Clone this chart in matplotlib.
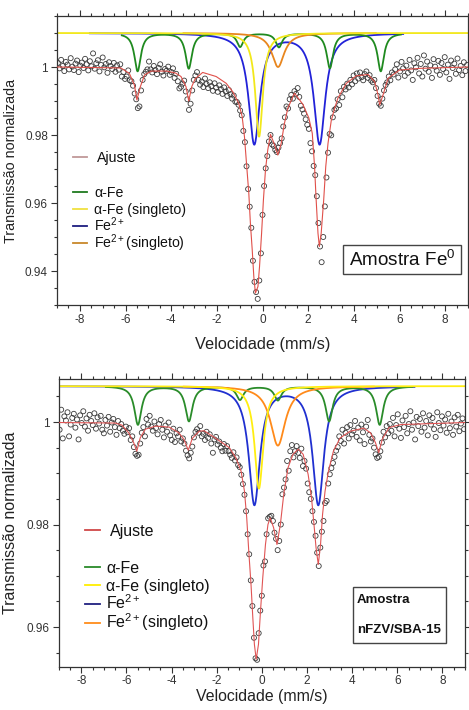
import numpy as np
import matplotlib
matplotlib.use("Agg")
import matplotlib.pyplot as plt
from matplotlib.ticker import MultipleLocator, FixedLocator, FixedFormatter
from matplotlib.lines import Line2D
from matplotlib.patches import Rectangle

plt.rcParams['font.family'] = ['Liberation Sans', 'DejaVu Sans']
plt.rcParams['mathtext.fontset'] = 'custom'
plt.rcParams['mathtext.rm'] = 'Liberation Sans'
plt.rcParams['mathtext.it'] = 'Liberation Sans:italic'
plt.rcParams['mathtext.bf'] = 'Liberation Sans:bold'
plt.rcParams['axes.unicode_minus'] = False

# ---------------- data ----------------
VEL_FIRST, VEL_LAST = -8.96, 8.96   # channel velocities (mm/s)

top_transmission = [
    1.0012, 0.9996, 1.0021, 1.0003, 0.9988, 1.0015, 1.0007, 0.9993, 1.0026, 1.0001,
    0.9991, 1.0010, 1.0019, 0.9985, 1.0004, 1.0013, 0.9997, 1.0024, 1.0008, 0.9990,
    1.0017, 1.0002, 1.0040, 0.9995, 1.0011, 1.0020, 0.9987, 1.0006, 1.0028, 0.9999,
    1.0009, 0.9983, 1.0014, 1.0003, 0.9994, 1.0012, 0.9986, 1.0005, 0.9992, 1.0008,
    0.9972, 0.9985, 0.9965,
    0.9972, 0.9990, 0.9961, 0.9958, 0.9945, 0.9922, 0.9905, 0.9879, 0.9884, 0.9931,
    0.9962, 0.9979, 0.9986, 0.9993,
    1.0016, 0.9993, 0.9984, 1.0003, 0.9991, 0.9979, 0.9997, 1.0008, 0.9986, 0.9975,
    0.9994, 0.9989, 1.0001, 0.9977, 0.9985, 0.9996, 0.9968, 0.9980,
    0.9958, 0.9937, 0.9942, 0.9951, 0.9960, 0.9928, 0.9905, 0.9874, 0.9892, 0.9931,
    0.9962, 0.9975,
    0.9985, 0.9962, 0.9948, 0.9957, 0.9941, 0.9966, 0.9950, 0.9938, 0.9955, 0.9944,
    0.9930, 0.9952, 0.9939, 0.9927, 0.9946, 0.9935, 0.9921, 0.9940, 0.9928, 0.9915,
    0.9932, 0.9920, 0.9907, 0.9916, 0.9898,
    0.9897, 0.9889, 0.9872, 0.9858, 0.9812, 0.9779, 0.9708, 0.9641, 0.9589, 0.9527,
    0.9430, 0.9368, 0.9338, 0.9318, 0.9372, 0.9452, 0.9565, 0.9650, 0.9702, 0.9738,
    0.9781, 0.9800, 0.9772, 0.9768, 0.9756, 0.9750, 0.9763, 0.9776,
    0.9790, 0.9825, 0.9852, 0.9884, 0.9878, 0.9905, 0.9918, 0.9907, 0.9929, 0.9921,
    0.9938, 0.9912, 0.9886, 0.9875, 0.9863, 0.9846, 0.9830,
    0.9818, 0.9776, 0.9752, 0.9709, 0.9682, 0.9620, 0.9541, 0.9472, 0.9426, 0.9500,
    0.9590, 0.9675, 0.9748, 0.9803, 0.9799, 0.9852, 0.9874, 0.9878, 0.9905,
    0.9888, 0.9929, 0.9911, 0.9942, 0.9934, 0.9951, 0.9940, 0.9962, 0.9949, 0.9975,
    0.9958, 0.9981, 0.9966, 0.9984, 0.9970, 0.9961, 0.9979, 0.9987, 0.9968, 0.9976,
    0.9960, 0.9955,
    0.9962, 0.9938, 0.9915, 0.9892, 0.9886, 0.9907, 0.9931, 0.9947, 0.9955, 0.9972,
    0.9961, 0.9984,
    0.9978, 0.9993, 1.0008, 0.9969, 0.9987, 1.0015, 0.9996, 0.9974, 1.0004, 0.9983,
    1.0021, 0.9990, 0.9962, 1.0011, 0.9999, 1.0027, 0.9981, 1.0009, 0.9972, 1.0034,
    0.9995, 1.0016, 0.9986, 1.0005, 0.9968, 1.0023, 1.0001, 0.9989, 1.0018, 0.9977,
    1.0012, 0.9994, 1.0029, 0.9984, 1.0007, 0.9965, 1.0019, 0.9997, 1.0010, 0.9980,
    1.0025, 0.9991, 1.0003, 0.9976, 1.0014, 0.9988, 1.0006,
]

bottom_transmission = [
    0.9985, 1.0024, 0.9968, 1.0011, 1.0003, 1.0019, 0.9972, 0.9995, 1.0008, 1.0016,
    0.9989, 1.0005, 0.9966, 1.0013, 0.9998, 1.0021, 0.9991, 1.0007, 0.9983, 1.0014,
    1.0002, 0.9994, 1.0017, 0.9987, 1.0009, 0.9997, 1.0012, 0.9985, 0.9978, 1.0004,
    0.9993, 1.0010, 0.9981, 0.9999, 1.0006, 0.9990, 0.9975, 1.0002, 0.9988, 0.9996,
    0.9983, 0.9977, 0.9991,
    0.9980, 0.9988, 0.9965, 0.9972, 0.9951, 0.9938, 0.9934, 0.9936, 0.9958, 0.9979,
    0.9990, 0.9972, 1.0006, 0.9995,
    1.0012, 0.9991, 0.9983, 1.0001, 0.9988, 0.9976, 0.9996, 1.0004, 0.9985, 0.9970,
    0.9993, 0.9981, 0.9999, 0.9974, 0.9965, 0.9987, 0.9961, 0.9978,
    0.9972, 0.9985, 0.9962, 0.9968, 0.9958, 0.9944, 0.9935, 0.9929, 0.9940, 0.9952,
    0.9970, 0.9981,
    0.9986, 0.9979, 0.9992, 0.9972, 0.9977, 0.9965, 0.9981, 0.9969, 0.9976, 0.9958,
    0.9940, 0.9966, 0.9971, 0.9956, 0.9962, 0.9950, 0.9943, 0.9957, 0.9944, 0.9953,
    0.9943, 0.9936, 0.9930, 0.9941, 0.9925,
    0.9931, 0.9916, 0.9912, 0.9897, 0.9879, 0.9858, 0.9826, 0.9781, 0.9742, 0.9691,
    0.9641, 0.9579, 0.9539, 0.9536, 0.9588, 0.9632, 0.9661, 0.9720, 0.9728, 0.9781,
    0.9812, 0.9815, 0.9817, 0.9807, 0.9784, 0.9772, 0.9750, 0.9768,
    0.9800, 0.9859, 0.9872, 0.9888, 0.9924, 0.9905, 0.9943, 0.9955, 0.9931, 0.9943,
    0.9953, 0.9940, 0.9930, 0.9948, 0.9914, 0.9924, 0.9909,
    0.9880, 0.9863, 0.9850, 0.9826, 0.9805, 0.9778, 0.9745, 0.9719, 0.9755, 0.9786,
    0.9807, 0.9842, 0.9846, 0.9880, 0.9898, 0.9910, 0.9920, 0.9932, 0.9944,
    0.9951, 0.9972, 0.9963, 0.9985, 0.9958, 0.9979, 0.9990, 0.9968, 0.9994, 0.9976,
    0.9983, 1.0002, 0.9971, 0.9989, 0.9964, 0.9995, 0.9980, 0.9957, 0.9991, 1.0004,
    0.9975, 0.9962,
    0.9968, 0.9950, 0.9937, 0.9930, 0.9932, 0.9943, 0.9960, 0.9981, 0.9970, 0.9992,
    0.9978, 0.9996,
    0.9983, 1.0008, 0.9972, 0.9994, 1.0015, 0.9987, 0.9969, 1.0003, 0.9990, 1.0012,
    0.9978, 0.9996, 1.0021, 0.9985, 0.9999, 0.9966, 1.0010, 0.9992, 1.0006, 0.9981,
    1.0017, 0.9989, 1.0002, 0.9974, 1.0013, 0.9995, 1.0008, 0.9986, 0.9971, 1.0019,
    0.9998, 0.9984, 1.0011, 0.9993, 1.0005, 0.9979, 1.0016, 0.9988, 1.0001, 0.9975,
    1.0009, 0.9991, 1.0014, 0.9982, 0.9997, 1.0007, 0.9986,
]

# fitted curve ("Ajuste"), read at its knots
top_fit_vel = [-9.0, -6.9, -6.2, -5.83, -5.61, -5.50, -5.35, -5.17, -4.88, -4.2, -3.8, -3.57,
               -3.35, -3.23, -3.10, -2.95, -2.62, -2.03, -1.59, -1.30, -1.04, -0.89, -0.79,
               -0.69, -0.60, -0.53, -0.45, -0.38, -0.31, -0.20, -0.13, -0.04, 0.04, 0.13,
               0.23, 0.35, 0.53, 0.67, 0.82, 0.96, 1.11, 1.40, 1.77, 2.03, 2.18, 2.28, 2.35,
               2.43, 2.49, 2.57, 2.68, 2.77, 2.87, 3.01, 3.16, 3.30, 3.67, 4.11, 4.62, 4.91,
               5.06, 5.13, 5.28, 5.50, 6.00, 6.88, 9.0]
top_fit_val = [1.0000, 0.9998, 0.9997, 0.9981, 0.9947, 0.9903, 0.9942, 0.9976, 0.9988, 0.9988,
               0.9982, 0.9972, 0.9942, 0.9900, 0.9942, 0.9965, 0.9984, 0.9972, 0.9952, 0.9927,
               0.9893, 0.9854, 0.9795, 0.9707, 0.9629, 0.9540, 0.9462, 0.9383, 0.9335, 0.9354,
               0.9413, 0.9511, 0.9609, 0.9697, 0.9756, 0.9802, 0.9771, 0.9741, 0.9776, 0.9834,
               0.9879, 0.9923, 0.9890, 0.9850, 0.9805, 0.9707, 0.9609, 0.9511, 0.9472, 0.9511,
               0.9609, 0.9707, 0.9776, 0.9842, 0.9879, 0.9908, 0.9952, 0.9974, 0.9978, 0.9957,
               0.9918, 0.9888, 0.9918, 0.9967, 0.9991, 0.9996, 1.0000]

bottom_fit_vel = [-9.0, -6.5, -6.2, -5.9, -5.68, -5.54, -5.39, -5.16, -4.7, -4.1, -3.68, -3.45,
                  -3.26, -3.08, -2.78, -2.56, -2.04, -1.44, -1.15, -0.92, -0.77, -0.67, -0.58,
                  -0.48, -0.40, -0.33, -0.25, -0.15, -0.06, 0.04, 0.16, 0.27, 0.37, 0.52, 0.67,
                  0.82, 0.97, 1.16, 1.38, 1.61, 1.83, 2.05, 2.20, 2.31, 2.40, 2.50, 2.60, 2.69,
                  2.80, 2.95, 3.17, 3.47, 3.91, 4.51, 4.81, 5.03, 5.18, 5.33, 5.63, 6.15, 9.0]
bottom_fit_val = [0.9999, 0.9998, 0.9994, 0.9979, 0.9960, 0.9943, 0.9969, 0.9986, 0.9992, 0.9990,
                  0.9979, 0.9966, 0.9945, 0.9968, 0.9982, 0.9983, 0.9968, 0.9950, 0.9930, 0.9904,
                  0.9865, 0.9813, 0.9748, 0.9683, 0.9618, 0.9566, 0.9537, 0.9566, 0.9631, 0.9696,
                  0.9761, 0.9800, 0.9813, 0.9794, 0.9761, 0.9800, 0.9859, 0.9911, 0.9937, 0.9947,
                  0.9937, 0.9898, 0.9852, 0.9800, 0.9755, 0.9722, 0.9761, 0.9820, 0.9865, 0.9904,
                  0.9943, 0.9969, 0.9982, 0.9988, 0.9979, 0.9960, 0.9940, 0.9966, 0.9989, 0.9995,
                  0.9999]

# sub-spectra (Lorentzian lines): centre, depth, half-width; shown offset above the data
top_baseline = 1.010
top_afe_pos = [-5.47, -3.23, -0.98, 0.72, 2.95, 5.18]
top_afe_depth = [0.0112, 0.0104, 0.0040, 0.0041, 0.0103, 0.0112]
top_afe_hw = 0.17
top_afes_pos = [-0.15]
top_afes_depth = [0.0305]
top_afes_hw = 0.20
top_fe2_pos = [-0.36, 2.50]
top_fe2_depth = [0.0325, 0.0325]
top_fe2_hw = 0.30
top_fe2s_pos = [0.68]
top_fe2s_depth = [0.0100]
top_fe2s_hw = 0.33

bot_baseline = 1.007
bot_afe_pos = [-5.49, -3.23, -0.97, 0.71, 2.98, 5.22]
bot_afe_depth = [0.0075, 0.0068, 0.0026, 0.0027, 0.0068, 0.0075]
bot_afe_hw = 0.19
bot_afes_pos = [-0.13]
bot_afes_depth = [0.0200]
bot_afes_hw = 0.23
bot_fe2_pos = [-0.33, 2.50]
bot_fe2_depth = [0.0230, 0.0230]
bot_fe2_hw = 0.30
bot_fe2s_pos = [0.71]
bot_fe2s_depth = [0.0116]
bot_fe2s_hw = 0.40

legend_labels = ['α-Fe', 'α-Fe (singleto)', r'Fe$^{\mathregular{2+}}$', r'Fe$^{\mathregular{2+}}$(singleto)']


def lorentz(v, base, pos, depth, hw):
    out = np.full_like(v, base)
    for p, d in zip(pos, depth):
        out -= d * hw ** 2 / ((v - p) ** 2 + hw ** 2)
    return out


W, H = 469, 710
fig = plt.figure(figsize=(W / 100, H / 100), dpi=100)
DY = -4  # vertical shift of the lower panel (px)


def rect(l, t, r, b):
    return [l / W, 1 - b / H, (r - l) / W, (b - t) / H]


def fx(px):
    return px / W


def fy(py):
    return 1 - py / H


def style_axes(ax, yticks, ylabels, ylim, ysize, yl_x, tick_fs):
    ax.set_xlim(-9, 9)
    ax.set_ylim(*ylim)
    ax.xaxis.set_major_locator(FixedLocator([-8, -6, -4, -2, 0, 2, 4, 6, 8]))
    ax.xaxis.set_minor_locator(MultipleLocator(0.5))
    ax.yaxis.set_major_locator(FixedLocator(yticks))
    ax.yaxis.set_major_formatter(FixedFormatter(ylabels))
    ax.yaxis.set_minor_locator(MultipleLocator(0.005))
    ax.tick_params(which='both', direction='out', top=True, right=True,
                   colors='#333333', width=0.8)
    ax.tick_params(which='major', length=4.5, labelsize=tick_fs, pad=2)
    ax.tick_params(which='minor', length=2.5)
    for s in ax.spines.values():
        s.set_color('#333333')
        s.set_linewidth(0.9)
    ax.set_xlabel('Velocidade (mm/s)', fontsize=11.7, color='#222222')
    ax.set_ylabel('Transmissão normalizada', fontsize=ysize, color='#222222')
    ax.yaxis.set_label_coords(yl_x, 0.5)
    ax.xaxis.set_label_coords(0.5, -0.11)


def panel(ax, data, fit_v, fit_y, base, comps, ranges, colors, fitcolor):
    vel = np.linspace(VEL_FIRST, VEL_LAST, len(data))
    # comps: 0 alpha-Fe, 1 alpha-Fe singlet, 2 Fe2+, 3 Fe2+ singlet
    order = [2, 0, 3, 1]  # blue, green, orange, yellow on top
    for z, k in enumerate(order):
        pos, dep, hw = comps[k]
        lo, hi = ranges[k]
        vv = np.linspace(lo, hi, 1500)
        ax.plot(vv, lorentz(vv, base, pos, dep, hw), color=colors[k], lw=1.3,
                zorder=2 + 0.1 * z, solid_capstyle='butt')
    ax.scatter(vel, data, s=13, facecolors='none', edgecolors='#3a3a3a',
               linewidths=0.6, zorder=3)
    ax.plot(fit_v, fit_y, color=fitcolor, lw=0.8, zorder=4)


# ---------- top panel ----------
ax1 = fig.add_axes(rect(57, 16, 468, 305))
top_colors = ['#1f8a1f', '#f2e81a', '#2222d8', '#e8861e']
panel(ax1, top_transmission, top_fit_vel, top_fit_val, top_baseline,
      [(top_afe_pos, top_afe_depth, top_afe_hw), (top_afes_pos, top_afes_depth, top_afes_hw),
       (top_fe2_pos, top_fe2_depth, top_fe2_hw), (top_fe2s_pos, top_fe2s_depth, top_fe2s_hw)],
      [(-6.2, 6.1), (-9, 9), (-7.6, 6.2), (-3.5, 5.0)],
      top_colors, '#e0504a')
style_axes(ax1, [0.94, 0.96, 0.98, 1.0], ['0.94', '0.96', '0.98', '1'],
           (0.930, 1.015), 10.3, -0.095, 8.5)

# ---------- bottom panel ----------
ax2 = fig.add_axes(rect(58.7, 382.7 + DY, 465, 671 + DY))
bot_colors = ['#2a8c2a', '#ffee10', '#2030d0', '#ff8a1a']
panel(ax2, bottom_transmission, bottom_fit_vel, bottom_fit_val, bot_baseline,
      [(bot_afe_pos, bot_afe_depth, bot_afe_hw), (bot_afes_pos, bot_afes_depth, bot_afes_hw),
       (bot_fe2_pos, bot_fe2_depth, bot_fe2_hw), (bot_fe2s_pos, bot_fe2s_depth, bot_fe2s_hw)],
      [(-6.95, 6.7), (-9, 9), (-9, 6.8), (-3.5, 5.0)],
      bot_colors, '#e05555')
style_axes(ax2, [0.96, 0.98, 1.0], ['0.96', '0.98', '1'],
           (0.9522, 1.00845), 11.5, -0.1, 8.5)
ax2.tick_params(axis='x', which='major', pad=1.5)
ax2.xaxis.label.set_fontsize(11.4)
ax2.xaxis.set_label_coords(0.5, -0.0764)


# ---------- legends (drawn in figure pixels) ----------
def legend_row(x0, x1, xt, yc, color, label, fs, lw=1.3):
    fig.add_artist(Line2D([fx(x0), fx(x1)], [fy(yc), fy(yc)], color=color, lw=lw,
                          transform=fig.transFigure))
    fig.text(fx(xt), fy(yc + 0.36 * fs * 100 / 72), label, fontsize=fs,
             ha='left', va='baseline', color='#111111')


legend_row(73, 87, 97, 157, '#c09898', 'Ajuste', 10.2)
top_leg_colors = ['#1f7a1f', '#f0e040', '#1c1c80', '#c8882a']
for k, yc in enumerate([191.7, 208.7, 225.7, 243.0]):
    legend_row(73, 87, 94, yc, top_leg_colors[k], legend_labels[k], 10.2)

legend_row(85, 100, 110, 534 + DY, '#d04848', 'Ajuste', 11.5)
bot_leg_colors = ['#2a8a2a', '#ffee00', '#202080', '#ff8c1a']
for k, yc in enumerate([571.0, 589.3, 607.7, 626.7]):
    legend_row(85, 100, 106, yc + DY, bot_leg_colors[k], legend_labels[k], 11.5)

# ---------- sample boxes ----------
fig.add_artist(Rectangle((fx(343), fy(274)), (461 - 343) / W, (274 - 245) / H,
                         transform=fig.transFigure, fill=True, facecolor='white',
                         edgecolor='#444444', lw=1.0))
fig.text(fx(402), fy(259.5 + 0.36 * 13.6 * 100 / 72), r'Amostra Fe$^{\mathregular{0}}$',
         fontsize=13.6, ha='center', va='baseline', color='#111111')

fig.add_artist(Rectangle((fx(353), fy(647.3 + DY)), (446 - 353) / W, (647.3 - 590.7) / H,
                         transform=fig.transFigure, fill=True, facecolor='white',
                         edgecolor='#444444', lw=1.0))
fig.text(fx(357), fy(602.3 + DY + 0.36 * 9.5 * 100 / 72), 'Amostra', fontsize=9.5,
         fontweight='bold', ha='left', va='baseline', color='#111111')
fig.text(fx(357), fy(632.7 + DY + 0.36 * 9.5 * 100 / 72), 'nFZV/SBA-15', fontsize=9.5,
         fontweight='bold', ha='left', va='baseline', color='#111111')

fig.savefig('out.png', dpi=100, facecolor='white')
